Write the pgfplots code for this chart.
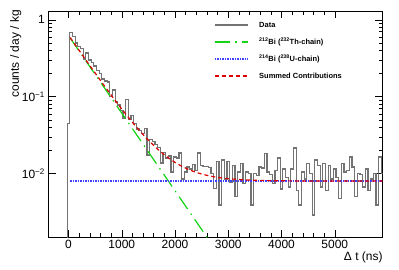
\documentclass[border=0pt]{standalone}
\usepackage{pgfplots}
\pgfplotsset{compat=1.18}
\usepackage{fontspec}
\setmainfont{Liberation Sans}
\definecolor{fgreen}{RGB}{20,210,20}
\definecolor{fred}{RGB}{220,0,0}
\begin{document}
\begin{tikzpicture}
\useasboundingbox (-48.3bp,-33bp) rectangle (350.7bp,237bp);
\begin{axis}[
  at={(0,0)}, anchor=south west,
  scale only axis, width=334.4bp, height=226bp,
  xmin=-380, xmax=5900,
  ymode=log, ymin=0.0015, ymax=1.3,
  xtick={0,1000,2000,3000,4000,5000},
  xticklabels={0,1000,2000,3000,4000,5000},
  minor x tick num=4,
  ytick={0.01,0.1,1},
  yticklabels={10\textsuperscript{−2},10\textsuperscript{−1},1},
  /pgf/number format/assume math mode=true,
  tick label style={font=\fontsize{12}{14}\selectfont},
  major tick length=7.5bp, minor tick length=4bp,
  tick style={black, line width=0.5bp},
  axis line style={line width=0.8bp},
  xlabel={Δ t (ns)},
  xlabel style={at={(axis description cs:1,-0.064)}, anchor=north east, inner sep=0pt, font=\fontsize{12}{14}\selectfont},
  ylabel={counts / day / kg},
  ylabel style={at={(axis description cs:-0.0975,1.004)}, anchor=east, inner sep=0pt, font=\fontsize{12}{14}\selectfont},
  legend cell align=left,
  legend image code/.code={\draw[#1] (0bp,0bp) -- (33bp,0bp);},
  legend style={draw=none, fill=none, at={(axis description cs:0.4955,0.9535)}, anchor=north west,
    inner sep=0pt, outer sep=0pt, row sep=9.9bp, column sep=11bp,
    font=\bfseries\fontsize{7.5}{9}\selectfont,
    nodes={inner sep=0pt, text height=5.5bp, text depth=1.6bp}},
]
\addplot[const plot mark left, black!55, line width=1.25bp] coordinates {
(-75,1e-6) (-25,0.045) (25,0.68) (75,0.60) (125,0.50) (175,0.45) (225,0.42) (275,0.31)
(325,0.37) (375,0.30) (425,0.28) (475,0.25) (525,0.22) (575,0.20) (625,0.17) (675,0.16)
(725,0.155) (775,0.10) (825,0.122) (875,0.085) (925,0.078) (975,0.066) (1025,0.053)
(1075,0.091) (1125,0.05) (1175,0.057) (1225,0.045) (1275,0.038) (1325,0.036) (1375,0.033)
(1425,0.039) (1475,0.0175) (1525,0.028) (1575,0.026) (1625,0.024) (1675,0.022)
(1725,0.0137) (1775,0.019) (1825,0.016) (1875,0.017) (1925,0.0105) (1975,0.0164)
(2025,0.016) (2075,0.0186) (2125,0.0085) (2175,0.0105) (2225,0.0122) (2275,0.0115)
(2325,0.013) (2375,0.011) (2425,0.0186) (2475,0.0128) (2525,0.0125) (2575,0.0125)
(2625,0.012) (2675,0.0100) (2725,0.0064) (2775,0.0143) (2825,0.0039) (2875,0.015)
(2925,0.0085) (2975,0.0143) (3025,0.0078) (3075,0.0128) (3125,0.005) (3175,0.0105)
(3225,0.0136) (3275,0.0075) (3325,0.0105) (3375,0.0100) (3425,0.0039) (3475,0.0100)
(3525,0.0095) (3575,0.0122) (3625,0.0118) (3675,0.0183) (3725,0.0105) (3775,0.0098)
(3825,0.0075) (3875,0.011) (3925,0.016) (3975,0.0063) (4025,0.0115) (4075,0.009)
(4125,0.0067) (4175,0.0115) (4225,0.0215) (4275,0.0060) (4325,0.0039) (4375,0.0105)
(4425,0.0085) (4475,0.0136) (4525,0.0100) (4575,0.0029) (4625,0.015) (4675,0.0128)
(4725,0.0067) (4775,0.0136) (4825,0.006) (4875,0.0128) (4925,0.0085) (4975,0.0115)
(5025,0.009) (5075,0.0048) (5125,0.0136) (5175,0.0105) (5225,0.011) (5275,0.0164)
(5325,0.0122) (5375,0.005) (5425,0.010) (5475,0.0098) (5525,0.0067) (5575,0.0115)
(5625,0.006) (5675,0.0085) (5725,0.010) (5775,0.0039) (5825,0.0164) (5875,0.010) (5925,0.010)
};
\addlegendentry{Data}
\addplot[color=fgreen, line width=1.2bp, dash pattern=on 15bp off 5.5bp on 1.5bp off 5.5bp] coordinates {
(30,0.58) (2700,0.00118)
};
\addlegendentry{\textsuperscript{212}Bi (\textsuperscript{232}Th-chain)}
\addplot[blue!75!white, line width=1.2bp, dash pattern=on 1.4bp off 1.1bp] coordinates {
(30,0.008) (5900,0.008)
};
\addlegendentry{\textsuperscript{214}Bi (\textsuperscript{238}U-chain)}
\addplot[color=fred, line width=1.2bp, dash pattern=on 4bp off 3bp] coordinates {
(30,0.588) (130,0.4679) (230,0.3726) (330,0.2971) (430,0.2372) (530,0.1898) (630,0.1521)
(730,0.1223) (830,0.0986) (930,0.0798) (1030,0.0650) (1130,0.0532) (1230,0.0438)
(1330,0.0364) (1430,0.0305) (1530,0.02585) (1630,0.02215) (1730,0.01922) (1830,0.0169)
(1930,0.01506) (2030,0.0136) (2130,0.01244) (2230,0.01152) (2330,0.01079) (2430,0.01021)
(2530,0.00975) (2630,0.00939) (2730,0.0091) (2830,0.00887) (2930,0.00869) (3030,0.00855)
(3230,0.00835) (3430,0.00822) (3630,0.00814) (3830,0.00809) (4230,0.00804) (4630,0.00802)
(5900,0.008)
};
\addlegendentry{Summed Contributions}
\end{axis}
\end{tikzpicture}
\end{document}
